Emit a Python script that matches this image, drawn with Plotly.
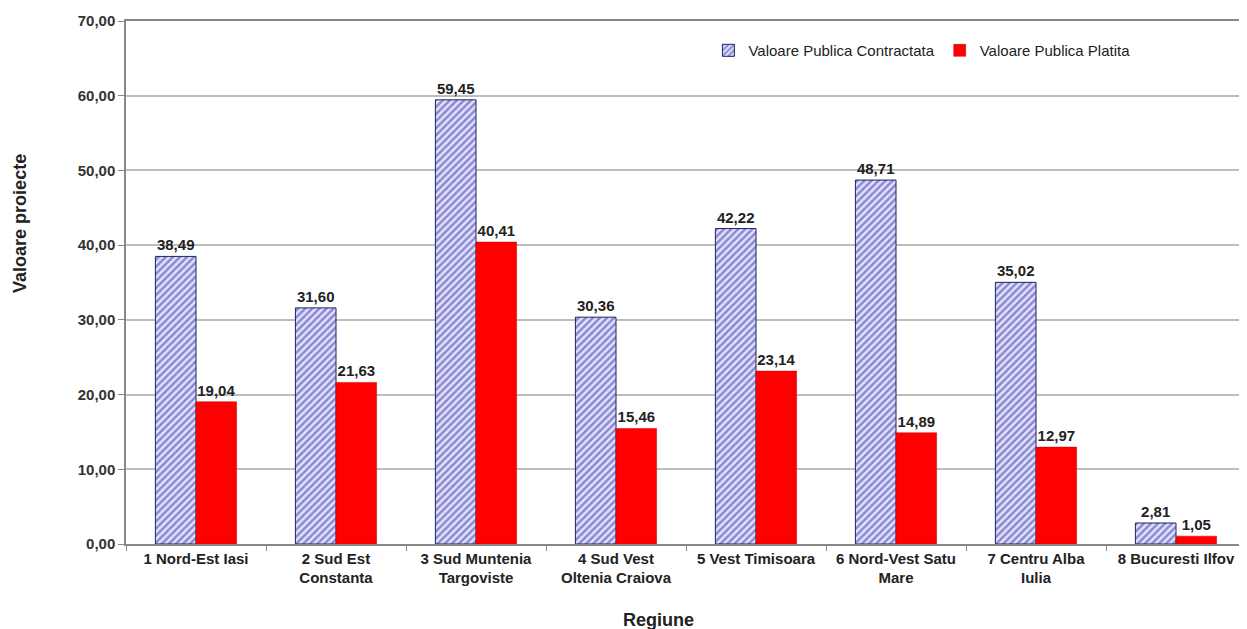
import plotly.graph_objects as go

regiuni = [
    "1 Nord-Est Iasi",
    "2 Sud Est<br>Constanta",
    "3 Sud Muntenia<br>Targoviste",
    "4 Sud Vest<br>Oltenia Craiova",
    "5 Vest Timisoara",
    "6 Nord-Vest Satu<br>Mare",
    "7 Centru Alba<br>Iulia",
    "8 Bucuresti Ilfov",
]
contractata = [38.49, 31.60, 59.45, 30.36, 42.22, 48.71, 35.02, 2.81]
platita = [19.04, 21.63, 40.41, 15.46, 23.14, 14.89, 12.97, 1.05]

font_family = "Arial, Liberation Sans, sans-serif"
label_font = dict(family=font_family, size=15, color="#222222")

fig = go.Figure()
fig.add_trace(go.Bar(
    x=regiuni, y=contractata, name="Valoare Publica Contractata",
    marker=dict(
        color="#d4d4fa",
        line=dict(color="#202060", width=1),
        pattern=dict(shape="/", fgcolor="#3030a8", bgcolor="#e2e2fc", size=5, solidity=0.5),
    ),
    texttemplate="<b>%{y:.2f}</b>", textposition="outside", textfont=label_font,
    cliponaxis=False,
))
fig.add_trace(go.Bar(
    x=regiuni, y=platita, name="Valoare Publica Platita",
    marker=dict(color="#ff0000", line=dict(color="#c00000", width=0.5)),
    texttemplate="<b>%{y:.2f}</b>", textposition="outside", textfont=label_font,
    cliponaxis=False,
))

# the page body has an 8px margin, so the figure is sized and offset to fit the window
fig.update_layout(
    width=1239, height=621,
    margin=dict(l=118, r=1, t=13, b=85),
    paper_bgcolor="white", plot_bgcolor="white",
    separators=",.",
    barmode="group", bargap=0.42, bargroupgap=0,
    font=dict(family=font_family, size=14, color="#222222"),
    legend=dict(
        orientation="h", x=0.52, y=0.975, xanchor="left", yanchor="top",
        font=dict(size=15, color="#222222"), bgcolor="rgba(0,0,0,0)",
        itemwidth=30, tracegroupgap=0,
    ),
    showlegend=True,
)
fig.update_xaxes(
    type="category", tickson="boundaries", ticks="outside", ticklen=5,
    tickcolor="#888888", showline=True, linecolor="#888888", linewidth=1.5,
    tickfont=dict(size=15, color="#222222"),
    tickprefix="<b>", ticksuffix="</b>",
    mirror=True,
    automargin=False,
)
fig.update_yaxes(
    range=[0, 70], dtick=10, tickformat=".2f", ticks="outside", ticklen=6,
    tickcolor="#888888", showline=True, linecolor="#888888", linewidth=1.5,
    showgrid=True, gridcolor="#bdbdbd", gridwidth=1.5, zeroline=False,
    tickprefix="<b>", ticksuffix="</b>",
    tickfont=dict(size=15, color="#333333"),
    mirror=True,
    automargin=False,
)

# axis titles sit off-centre in the original, so place them as annotations
fig.add_annotation(
    text="<b>Regiune</b>", xref="paper", yref="paper", x=0.475, y=0,
    xanchor="center", yanchor="middle", yshift=-76,
    showarrow=False, font=dict(size=18, color="#222222"),
)
fig.add_annotation(
    text="<b>Valoare proiecte</b>", xref="paper", yref="paper", x=0, y=0.612,
    xanchor="center", yanchor="middle", xshift=-106, textangle=-90,
    showarrow=False, font=dict(size=18, color="#222222"),
)

fig.write_html("out.html")
